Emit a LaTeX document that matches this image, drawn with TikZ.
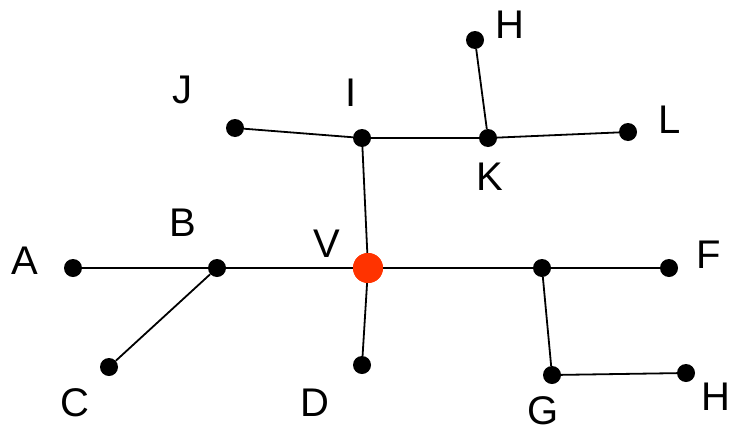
\documentclass[tikz,border=0pt]{standalone}
\usepackage{fontspec}
\setmainfont{Liberation Sans}
\begin{document}
\begin{tikzpicture}[x=1pt,y=-1pt,
  dot/.style={circle,fill=black,inner sep=0pt,minimum size=18pt},
  root/.style={circle,fill=rootred,inner sep=0pt,minimum size=30pt},
  lab/.style={inner sep=0pt,font=\fontsize{40}{48}\selectfont},
  edge/.style={line width=1.8pt}]
\definecolor{rootred}{HTML}{FF3300}
\useasboundingbox (0,0) rectangle (733,434);
% vertices
\node[dot] (A) at (73,268) {};
\node[dot] (B) at (217,268) {};
\node[dot] (C) at (109,367) {};
\node[dot] (D) at (362,365) {};
\node[dot] (I) at (362,138) {};
\node[dot] (J) at (235,128) {};
\node[dot] (K) at (488,138) {};
\node[dot] (Ht) at (475,40) {};
\node[dot] (L) at (628,132) {};
\node[dot] (P) at (542,268) {};
\node[dot] (F) at (669,268) {};
\node[dot] (G) at (552,375) {};
\node[dot] (Hr) at (686,373) {};
% edges
\draw[edge] (A) -- (B);
\draw[edge] (B) -- (C);
\draw[edge] (J) -- (I);
\draw[edge] (I) -- (K);
\draw[edge] (K) -- (L);
\draw[edge] (K) -- (Ht);
\draw[edge] (P) -- (F);
\draw[edge] (P) -- (G);
\draw[edge] (G) -- (Hr);
\node[root] (V) at (368,268) {};
\draw[edge] (B) -- (V);
\draw[edge] (V) -- (I);
\draw[edge] (V) -- (D);
\draw[edge] (V) -- (P);
\node[root] at (V) {};
% labels
\node[lab] (lA) at (25,261) {A};
\node[lab] (lB) at (183,223) {B};
\node[lab] (lC) at (75,403) {C};
\node[lab] (lD) at (315,403) {D};
\node[lab] (lV) at (327,244) {V};
\node[lab] (lI) at (351,93) {I};
\node[lab] (lJ) at (182,90) {J};
\node[lab] (lK) at (490,177) {K};
\node[lab] (lHt) at (510,25) {H};
\node[lab] (lL) at (670,120) {L};
\node[lab] (lF) at (709,255) {F};
\node[lab] (lG) at (543,411) {G};
\node[lab] (lHr) at (716,397) {H};
\end{tikzpicture}
\end{document}
